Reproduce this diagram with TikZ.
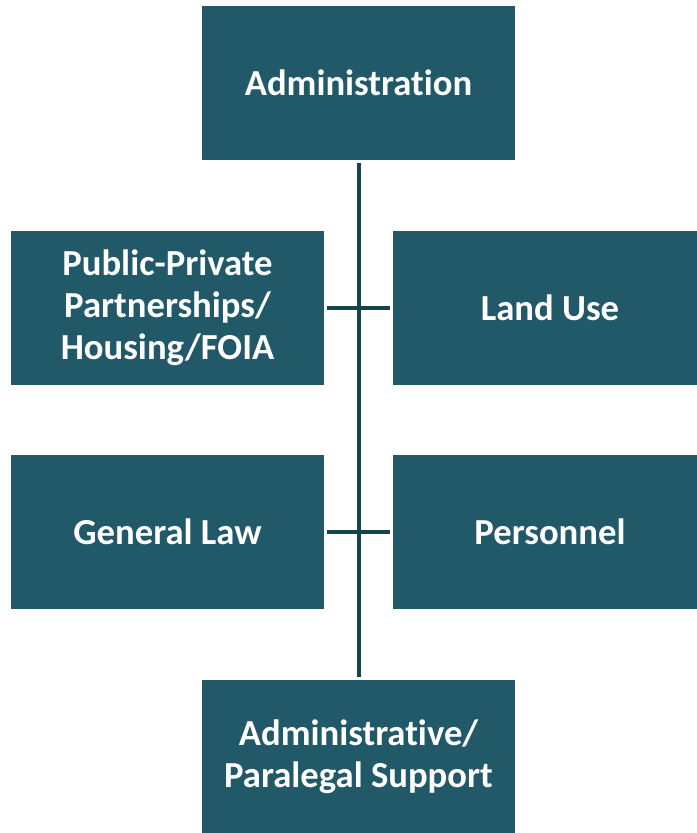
\documentclass[tikz,border=0pt]{standalone}
\usepackage{fontspec}
\setmainfont{Carlito}[Ligatures=NoCommon]
\definecolor{boxfill}{HTML}{215968}
\definecolor{linecol}{HTML}{17434F}
\begin{document}
\begin{tikzpicture}[x=0.75pt,y=-0.75pt,
  unit/.style={fill=boxfill,text=white,font=\bfseries\fontsize{27.5}{31.5}\selectfont,align=center,inner sep=0pt},
  conn/.style={draw=linecol,line width=2.3pt}]
\useasboundingbox (0,0) rectangle (697,833);
\fill[boxfill] (202,6) rectangle (515,160);
\node[unit] (adm) at (358.5,83) {Administration};
\fill[boxfill] (11,231) rectangle (324,385);
\node[unit] (ppp) at (167.5,308) {Public-Private\\Partnerships/\\Housing/FOIA};
\fill[boxfill] (393,231) rectangle (697,385);
\node[unit] (land) at (550,308) {Land Use};
\fill[boxfill] (11,455) rectangle (324,609);
\node[unit] (gen) at (167.5,532) {General Law};
\fill[boxfill] (393,455) rectangle (697,609);
\node[unit] (pers) at (550,532) {Personnel};
\fill[boxfill] (202,680) rectangle (515,833);
\node[unit] (sup) at (358.5,756.5) {Administrative/\\Paralegal Support};
\coordinate (top) at (359,163);
\coordinate (bot) at (359,677);
\coordinate (h1l) at (327,308);
\coordinate (h1r) at (390,308);
\coordinate (h2l) at (327,532);
\coordinate (h2r) at (390,532);
\draw[conn] (top) -- (bot);
\draw[conn] (h1l) -- (h1r);
\draw[conn] (h2l) -- (h2r);
\end{tikzpicture}
\end{document}
